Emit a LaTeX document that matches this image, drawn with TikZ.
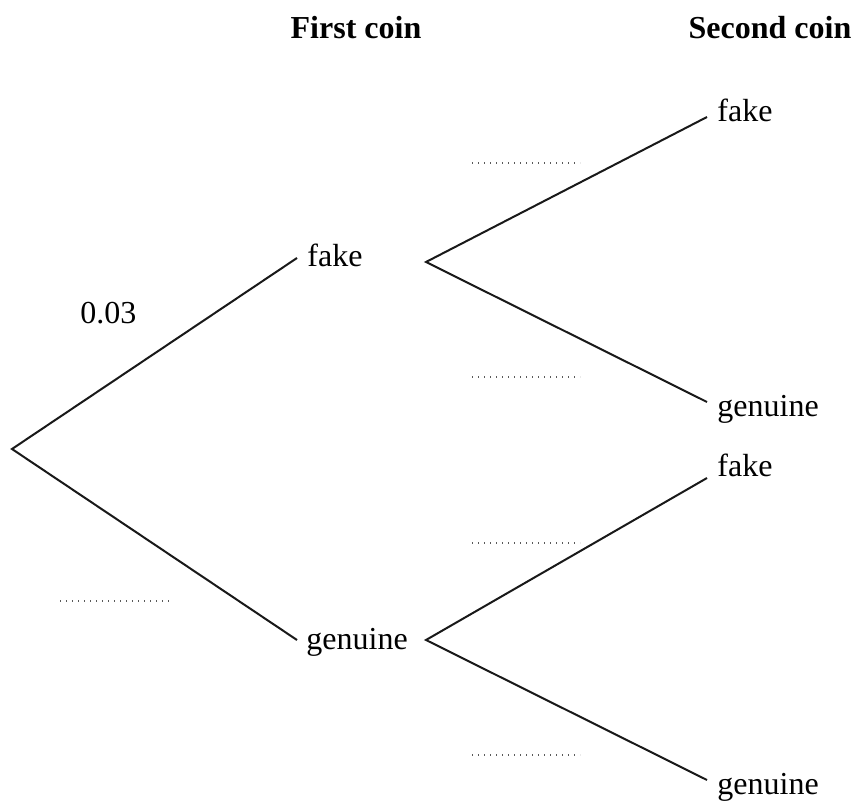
\documentclass[tikz,border=0pt]{standalone}
\usepackage{fontspec}
\setmainfont{Liberation Serif}
\begin{document}
\begin{tikzpicture}[x=0.5pt,y=-0.5pt,
  branch/.style={line width=1pt, black!90},
  lbl/.style={anchor=base west, inner sep=0pt, font=\fontsize{16}{19}\selectfont},
  hdr/.style={anchor=base, inner sep=0pt, font=\fontsize{16}{19}\selectfont\bfseries},
  blank/.style={line width=0.9pt, black!65, dash pattern=on 0.6pt off 2.4pt}]
\useasboundingbox (0,0) rectangle (855,801);
% headers
\node[hdr] (h1) at (356,39) {First coin};
\node[hdr] (h2) at (770,39) {Second coin};
% labels
\node[lbl] (f1) at (307,267) {fake};
\node[lbl] (g1) at (306,649) {genuine};
\node[lbl] (f2a) at (717,122) {fake};
\node[lbl] (g2a) at (717,416) {genuine};
\node[lbl] (f2b) at (717,476) {fake};
\node[lbl] (g2b) at (717,794) {genuine};
\node[lbl] (p) at (80,324) {0.03};
% branch points and ends
\coordinate (R) at (12,449);
\coordinate (f1e) at (297,258);
\coordinate (g1e) at (297,640);
\coordinate (f1r) at (426,262);
\coordinate (g1r) at (426,640);
\coordinate (f2ae) at (707,117);
\coordinate (g2ae) at (707,402);
\coordinate (f2be) at (707,478);
\coordinate (g2be) at (707,780);
\draw[branch] (f1e) -- (R) -- (g1e);
\draw[branch] (f2ae) -- (f1r) -- (g2ae);
\draw[branch] (f2be) -- (g1r) -- (g2be);
% blanks
\coordinate (b1a) at (472,163); \coordinate (b1b) at (580,163);
\coordinate (b2a) at (472,377); \coordinate (b2b) at (580,377);
\coordinate (b3a) at (472,543); \coordinate (b3b) at (580,543);
\coordinate (b4a) at (472,755); \coordinate (b4b) at (580,755);
\coordinate (b5a) at (60,601); \coordinate (b5b) at (169,601);
\draw[blank] (b1a) -- (b1b);
\draw[blank] (b2a) -- (b2b);
\draw[blank] (b3a) -- (b3b);
\draw[blank] (b4a) -- (b4b);
\draw[blank] (b5a) -- (b5b);
\end{tikzpicture}
\end{document}
